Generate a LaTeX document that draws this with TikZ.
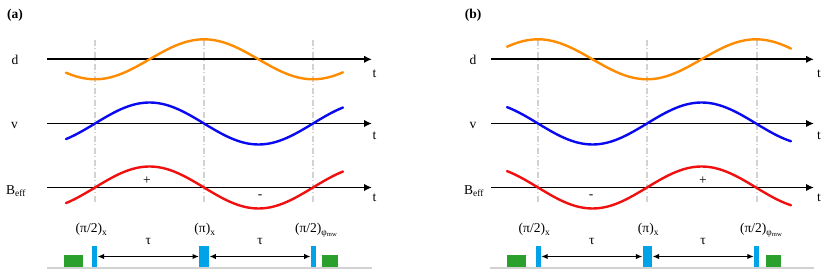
\documentclass[tikz,border=0pt]{standalone}
\usepackage{fontspec}
\setmainfont{Liberation Serif}
\usetikzlibrary{positioning,arrows.meta}
\definecolor{dorange}{HTML}{FF8C00}
\definecolor{vblue}{HTML}{0A0AF0}
\definecolor{bred}{HTML}{F01010}
\definecolor{pcyan}{HTML}{00A2E8}
\definecolor{lgreen}{HTML}{2CA02C}
\definecolor{lgray}{HTML}{D2D2D2}

\begin{document}
\begin{tikzpicture}[x=1pt, y=1pt,
      axis/.style={-{Latex[length=8pt,width=7.5pt]}, line width=1.8pt},
      guide/.style={lgray, line width=1.3pt,
        dash pattern=on 6pt off 2.5pt on 1pt off 2.5pt},
      wave/.style={line width=2.4pt, line cap=round},
      lab/.style={font=\fontsize{13.5}{15}\selectfont, inner sep=0pt, anchor=base},
      panel/.style={lab, font=\fontsize{13.5}{15}\selectfont\bfseries},
      pulse/.style={rectangle, fill=pcyan, inner sep=0pt, minimum height=21pt},
      laser/.style={rectangle, fill=lgreen, inner sep=0pt, minimum height=11.7pt},
      tauarr/.style={{Latex[length=6.5pt,width=5.5pt]}-{Latex[length=6.5pt,width=5.5pt]},
        line width=1.5pt}
    ]
      \useasboundingbox (0,0) rectangle (830,275);

      % ---- panel (a)
      \node[panel] (pa) at (15,256) {(a)};
      \foreach \gx in {95,204,313} \draw[guide] (\gx,235) -- (\gx,73);
      \coordinate (ad0) at (47,215.7);  \coordinate (ad1) at (372,215.7);
      \coordinate (av0) at (47,151.5);  \coordinate (av1) at (372,151.5);
      \coordinate (ab0) at (47,87.5);   \coordinate (ab1) at (372,87.5);
      \draw[axis] (ad0) -- (ad1); \draw[axis] (av0) -- (av1);
      \draw[axis] (ab0) -- (ab1);
      \draw[wave, dorange] plot[domain=66:343, samples=80]
        (\x, {215.7-20*cos((\x-95)/218*360)});
      \draw[wave, vblue] plot[domain=66:343, samples=80]
        (\x, {151.5+21*sin((\x-95)/218*360)});
      \draw[wave, bred] plot[domain=66:343, samples=80]
        (\x, {87.5+21*sin((\x-95)/218*360)});
      \node[lab] (ald) at (15,210) {d};
      \node[lab] (alv) at (14.5,146) {v};
      \node[lab] (alb) at (16,80.5) {B\textsubscript{eff}};
      \node[lab] (atd) at (374.5,197) {t};
      \node[lab] (atv) at (374.5,135.7) {t};
      \node[lab] (atb) at (374.5,73.3) {t};
      \node[lab, anchor=center] (apl) at (147,94) {+};
      \node[lab, anchor=center] (amn) at (260,78) {-};
      \fill[lgray] (47,5.7) rectangle (372,8.3);
      \node[laser, minimum width=19pt] (al1) at (73.5,14.2) {};
      \node[laser, minimum width=16pt] (al2) at (330,14.2) {};
      \node[pulse, minimum width=5pt]  (ap1) at (94.8,18.5) {};
      \node[pulse, minimum width=10pt] (ap2) at (204.2,18.5) {};
      \node[pulse, minimum width=5pt]  (ap3) at (313.3,18.5) {};
      \draw[tauarr] (ap1.east) -- node[lab, anchor=base, yshift=12pt] (at1) {τ} (ap2.west);
      \draw[tauarr] (ap2.east) -- node[lab, anchor=base, yshift=12pt] (at2) {τ} (ap3.west);
      \node[lab] (ap1l) at (91.5,42) {(π/2)\textsubscript{x}};
      \node[lab] (ap2l) at (205,42) {(π)\textsubscript{x}};
      \node[lab] (ap3l) at (316.5,42) {(π/2)\textsubscript{φ\textsubscript{mw}}};

      % ---- panel (b)
      \node[panel] (pb) at (473,256) {(b)};
      \foreach \gx in {538,647,757} \draw[guide] (\gx,235) -- (\gx,73);
      \coordinate (bd0) at (491,215.7); \coordinate (bd1) at (814,215.7);
      \coordinate (bv0) at (491,151.5); \coordinate (bv1) at (814,151.5);
      \coordinate (bb0) at (491,87.5);  \coordinate (bb1) at (814,87.5);
      \draw[axis] (bd0) -- (bd1); \draw[axis] (bv0) -- (bv1);
      \draw[axis] (bb0) -- (bb1);
      \draw[wave, dorange] plot[domain=507:791, samples=80]
        (\x, {215.7+20*cos((\x-538)/218*360)});
      \draw[wave, vblue] plot[domain=507:791, samples=80]
        (\x, {151.5-21*sin((\x-538)/218*360)});
      \draw[wave, bred] plot[domain=507:791, samples=80]
        (\x, {87.5-21*sin((\x-538)/218*360)});
      \node[lab] (bld) at (473,210) {d};
      \node[lab] (blv) at (473,146) {v};
      \node[lab] (blb) at (474,80.5) {B\textsubscript{eff}};
      \node[lab] (btd) at (819,197) {t};
      \node[lab] (btv) at (819,135.7) {t};
      \node[lab] (btb) at (819,73.3) {t};
      \node[lab, anchor=center] (bmn) at (591,78) {-};
      \node[lab, anchor=center] (bpl) at (703,94) {+};
      \fill[lgray] (490,5.7) rectangle (814,8.3);
      \node[laser, minimum width=19pt] (bl1) at (516.5,14.2) {};
      \node[laser, minimum width=15.5pt] (bl2) at (773.5,14.2) {};
      \node[pulse, minimum width=5pt]  (bp1) at (538.5,18.5) {};
      \node[pulse, minimum width=9.7pt] (bp2) at (647.5,18.5) {};
      \node[pulse, minimum width=5pt]  (bp3) at (756.5,18.5) {};
      \draw[tauarr] (bp1.east) -- node[lab, anchor=base, yshift=12pt] (bt1) {τ} (bp2.west);
      \draw[tauarr] (bp2.east) -- node[lab, anchor=base, yshift=12pt] (bt2) {τ} (bp3.west);
      \node[lab] (bp1l) at (534.5,42) {(π/2)\textsubscript{x}};
      \node[lab] (bp2l) at (648.5,42) {(π)\textsubscript{x}};
      \node[lab] (bp3l) at (761.5,42) {(π/2)\textsubscript{φ\textsubscript{mw}}};
    \end{tikzpicture}
\end{document}
